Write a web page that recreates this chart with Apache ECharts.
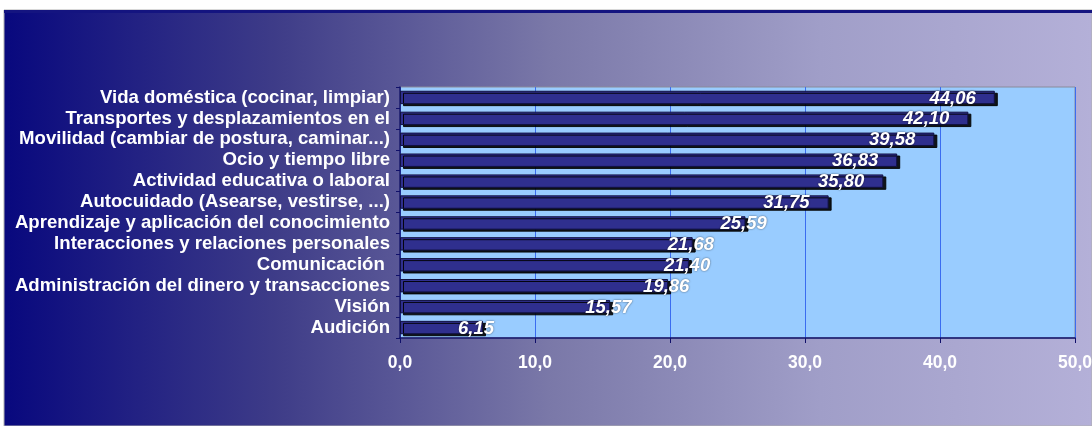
<!DOCTYPE html>
<html>
<head>
<meta charset="utf-8">
<style>
  html, body { margin: 0; padding: 0; background: #ffffff; }
  #chart { width: 1092px; height: 426px; }
</style>
<script src="https://cdn.jsdelivr.net/npm/echarts@6/dist/echarts.min.js"></script>
</head>
<body>
<div id="chart"></div>
<script>
// Categories, top to bottom
const categories = [
  'Vida doméstica (cocinar, limpiar)',
  'Transportes y desplazamientos en el',
  'Movilidad (cambiar de postura, caminar...)',
  'Ocio y tiempo libre',
  'Actividad educativa o laboral',
  'Autocuidado (Asearse, vestirse, ...)',
  'Aprendizaje y aplicación del conocimiento',
  'Interacciones y relaciones personales',
  'Comunicación ',
  'Administración del dinero y transacciones',
  'Visión',
  'Audición'
];

// Percentage per category
const values = [44.06, 42.10, 39.58, 36.83, 35.80, 31.75, 25.59, 21.68, 21.40, 19.86, 15.57, 6.15];

// Value axis range
const axisMin = 0;
const axisMax = 50;
const axisStep = 10;

const fmt = (v, d) => v.toFixed(d).replace('.', ',');

const chart = echarts.init(document.getElementById('chart'));

// Long bars carry their value inside the end; short bars have it centred on the end
const seriesData = values.map(v => ({
  value: v,
  label: v >= 30
    ? { position: 'insideRight', offset: [-14, 1] }
    : { position: 'right', distance: -25, offset: [0, 1] }
}));

chart.setOption({
  animation: false,
  graphic: [
    {
      type: 'rect',
      z: -10,
      shape: { x: 4, y: 10, width: 1088, height: 416 },
      style: {
        fill: new echarts.graphic.LinearGradient(0, 0, 1, 0, [
          { offset: 0, color: '#08087e' },
          { offset: 0.25, color: '#3e3c88' },
          { offset: 0.5, color: '#7a78a8' },
          { offset: 0.75, color: '#a09ec8' },
          { offset: 1, color: '#b4b0d8' }
        ]),
        stroke: '#b0b0b0',
        lineWidth: 1
      }
    },
    {
      type: 'rect',
      z: -9,
      shape: { x: 4, y: 10, width: 1088, height: 3 },
      style: { fill: '#141480' }
    }
  ],
  grid: {
    left: 400,
    right: 17,
    top: 87,
    bottom: 88,
    outerBoundsMode: 'none',
    show: true,
    backgroundColor: '#99ccff',
    borderColor: '#8a8a9a',
    borderWidth: 1
  },
  xAxis: {
    type: 'value',
    min: axisMin,
    max: axisMax,
    interval: axisStep,
    axisLine: { show: true, lineStyle: { color: '#10106a', width: 1.5 } },
    axisTick: { show: true, length: 5, lineStyle: { color: '#10106a' } },
    splitLine: { show: true, lineStyle: { color: '#3a6cf0', width: 1 } },
    axisLabel: {
      color: '#ffffff',
      fontFamily: 'Liberation Sans, Arial',
      fontWeight: 'bold',
      fontSize: 17.5,
      margin: 16,
      hideOverlap: false,
      formatter: v => fmt(v, 1)
    }
  },
  yAxis: {
    type: 'category',
    data: categories,
    inverse: true,
    axisLine: { show: true, lineStyle: { color: '#10106a', width: 1.5 } },
    axisTick: { show: true, length: 4, lineStyle: { color: '#10106a' } },
    axisLabel: {
      interval: 0,
      color: '#ffffff',
      fontFamily: 'Liberation Sans, Arial',
      fontWeight: 'bold',
      fontSize: 18.6,
      margin: 10
    }
  },
  series: [{
    type: 'bar',
    data: seriesData,
    barCategoryGap: '36%',
    itemStyle: {
      color: '#2f2f8e',
      borderColor: '#101040',
      borderWidth: 1,
      shadowColor: 'rgba(0,0,0,0.9)',
      shadowOffsetX: 3,
      shadowOffsetY: 2,
      shadowBlur: 0
    },
    label: {
      show: true,
      color: '#ffffff',
      fontFamily: 'Liberation Sans, Arial',
      fontWeight: 'bold',
      fontStyle: 'italic',
      fontSize: 18.5,
      textShadowColor: 'rgba(0,0,0,0.6)',
      textShadowBlur: 2,
      formatter: p => fmt(p.value, 2)
    }
  }]
});
</script>
</body>
</html>
